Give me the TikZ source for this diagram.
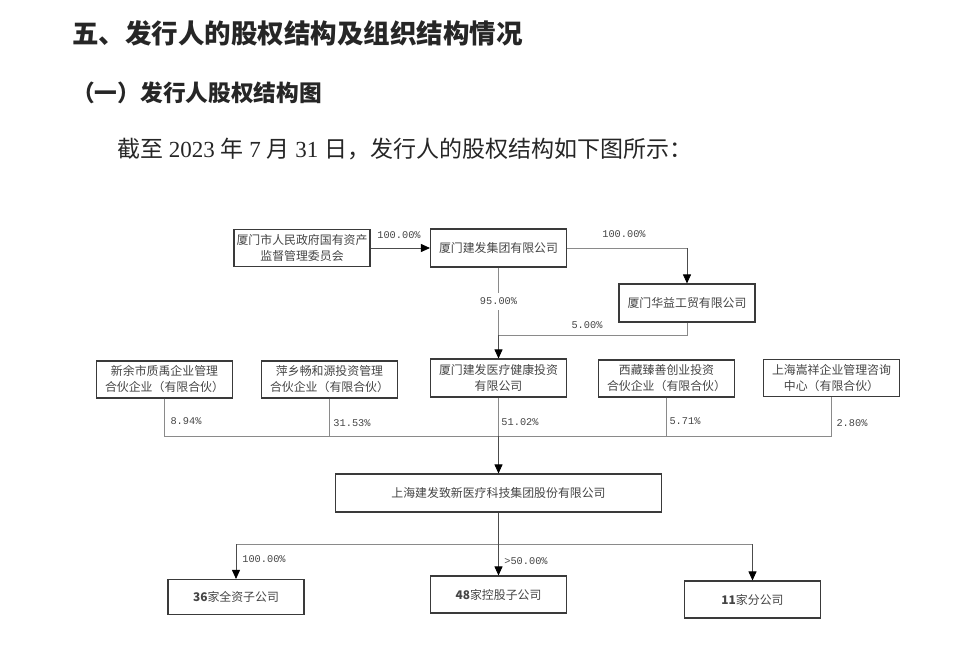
\documentclass[tikz,border=0pt]{standalone}
\usepackage{fontspec}
\setmainfont{Liberation Serif}
\newfontfamily\cjk{Noto Sans CJK SC}
\newfontfamily\pct{Liberation Mono}
\usetikzlibrary{arrows.meta}
\definecolor{boxline}{HTML}{3A3A3A}
\definecolor{conn}{HTML}{8A8A8A}
\definecolor{txt}{HTML}{454545}
\tikzset{
  box/.style={draw=boxline,line width=1.1pt,fill=white,minimum width=#1,inner sep=0pt,align=center,text=txt,font=\cjk\fontsize{11.9}{16}\selectfont},
  box/.default=136pt,
  pctlabel/.style={inner sep=1pt,text=txt,font=\pct\fontsize{10.3}{10.3}\selectfont},
  head/.style={text=black!85,anchor=west,inner sep=0pt},
  link/.style={draw=conn,line width=0.9pt},
  arrowlink/.style={draw=black!70,line width=0.8pt,-{Triangle[length=9pt,width=8pt,black]}}
}
\begin{document}
\begin{tikzpicture}[x=1pt,y=-1pt]
\useasboundingbox (0,0) rectangle (955,645);
\fill[white] (0,0) rectangle (955,645);
% headings
\node[head,font=\cjk\bfseries\fontsize{26.5}{28}\selectfont] (h1) at (72,33) {五、发行人的股权结构及组织结构情况};
\node[head,font=\cjk\bfseries\fontsize{22.7}{24}\selectfont] (h2) at (72,93) {（一）发行人股权结构图};
\node[head,font=\fontsize{23}{25}\selectfont] (h3) at (117,149) {{\cjk 截至} 2023 {\cjk 年} 7 {\cjk 月} 31 {\cjk 日，发行人的股权结构如下图所示：}};
% top boxes
\node[box,minimum height=37pt] (sasac) at (302,248) {厦门市人民政府国有资产\\监督管理委员会};
\node[box,minimum height=38pt] (group) at (498.5,248) {厦门建发集团有限公司};
\node[box,minimum height=38pt] (huayi) at (687,303) {厦门华益工贸有限公司};
% shareholders
\node[box,minimum height=37pt] (xinyu) at (164.5,379.5) {新余市质禹企业管理\\合伙企业（有限合伙）};
\node[box,minimum height=37pt] (pingxiang) at (329.5,379.5) {萍乡畅和源投资管理\\合伙企业（有限合伙）};
\node[box,minimum height=38pt] (invest) at (498.5,378) {厦门建发医疗健康投资\\有限公司};
\node[box,minimum height=37pt] (tibet) at (666.5,378.5) {西藏臻善创业投资\\合伙企业（有限合伙）};
\node[box,minimum height=37pt] (shmx) at (831.5,378) {上海嵩祥企业管理咨询\\中心（有限合伙）};
% issuer
\node[box=326pt,minimum height=38pt] (issuer) at (498.5,493) {上海建发致新医疗科技集团股份有限公司};
% subsidiaries
\node[box,minimum height=35pt] (s36) at (236,597) {\textbf{36}家全资子公司};
\node[box,minimum height=37pt] (s48) at (498.5,594.5) {\textbf{48}家控股子公司};
\node[box,minimum height=37pt] (s11) at (752.5,599.5) {\textbf{11}家分公司};
% junctions
\coordinate (j1) at (group.south |- 0,335);
\coordinate (c1) at (huayi.north |- group.east);
\coordinate (c2) at (huayi.south |- j1);
\coordinate (j2) at (invest.south |- 0,436);
\coordinate (j3) at (issuer.south |- 0,544);
\coordinate (c3) at (s36.north |- j3);
\coordinate (c4) at (s11.north |- j3);
% connectors
\draw[link] (group.south) -- (j1);
\draw[link] (huayi.south) -- (c2) -- (j1);
\draw[arrowlink] (j1) -- (invest.north);
\draw[link] (group.east) -- (c1);
\draw[arrowlink] (c1) -- (huayi.north);
\draw[arrowlink] (sasac.east) -- (group.west);
\draw[link] (xinyu.south) -- (xinyu.south |- j2) -- (shmx.south |- j2) -- (shmx.south);
\draw[link] (pingxiang.south) -- (pingxiang.south |- j2);
\draw[link] (tibet.south) -- (tibet.south |- j2);
\draw[link] (invest.south) -- (j2);
\draw[arrowlink] (j2) -- (issuer.north);
\draw[link] (c3) -- (c4);
\draw[arrowlink] (issuer.south) -- (s48.north);
\draw[arrowlink] (c3) -- (s36.north);
\draw[arrowlink] (c4) -- (s11.north);
% labels
\node[pctlabel] (l1) at (399,235) {100.00\%};
\node[pctlabel] (l2) at (624,234) {100.00\%};
\node[pctlabel,fill=white,inner ysep=5pt] (l3) at (498.5,301) {95.00\%};
\node[pctlabel] (l4) at (587,325) {5.00\%};
\node[pctlabel] (l5) at (186,421) {8.94\%};
\node[pctlabel] (l6) at (352,423) {31.53\%};
\node[pctlabel] (l7) at (520,422) {51.02\%};
\node[pctlabel] (l8) at (685,421) {5.71\%};
\node[pctlabel] (l9) at (852,423) {2.80\%};
\node[pctlabel] (l10) at (264,559) {100.00\%};
\node[pctlabel] (l11) at (526,561) {>50.00\%};
\end{tikzpicture}
\end{document}
